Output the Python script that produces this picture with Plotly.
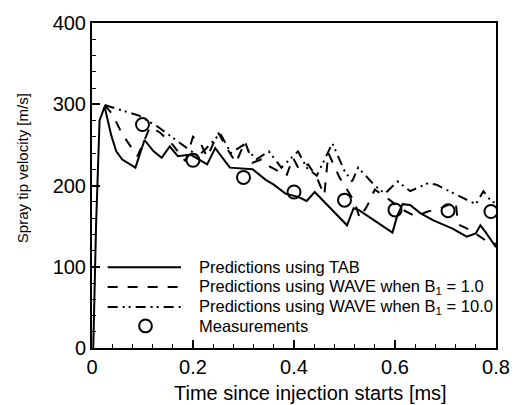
import plotly.graph_objects as go

# ---- data ----
tab_t = [0.0025, 0.008, 0.015, 0.025, 0.038, 0.048, 0.06, 0.086, 0.104, 0.122, 0.138, 0.154,
         0.17, 0.195, 0.228, 0.244, 0.273, 0.318, 0.344, 0.36, 0.383, 0.408, 0.425, 0.441,
         0.505, 0.518, 0.528, 0.595, 0.604, 0.615, 0.63, 0.65, 0.676, 0.714, 0.742, 0.76,
         0.769, 0.779, 0.8]
tab_v = [0, 150, 280, 297, 262, 242, 232, 222, 256, 242, 234, 248,
         236, 238, 226, 246, 222, 220, 207, 201, 190, 186, 181, 192,
         151, 172, 170, 142, 162, 177, 176, 166, 157, 147, 137, 141,
         151, 143, 124]

wave1_t = [0.025, 0.04, 0.06, 0.09, 0.115, 0.135, 0.16, 0.185, 0.2, 0.215, 0.228, 0.25,
           0.27, 0.285, 0.303, 0.318, 0.335, 0.35, 0.385, 0.398, 0.41, 0.428, 0.445, 0.46,
           0.468, 0.49, 0.5, 0.52, 0.53, 0.545, 0.56, 0.59, 0.61, 0.64, 0.665, 0.69, 0.72,
           0.725, 0.75, 0.78, 0.8]
wave1_v = [299, 288, 263, 236, 272, 265, 250, 230, 260, 252, 235, 265,
           243, 228, 254, 228, 232, 224, 212, 234, 220, 226, 210, 188,
           240, 210, 200, 180, 160, 175, 195, 182, 172, 162, 168, 172, 180,
           152, 145, 132, 128]

wave10_t = [0.025, 0.06, 0.093, 0.131, 0.17, 0.195, 0.21, 0.225, 0.254, 0.275, 0.3, 0.325,
            0.35, 0.375, 0.408, 0.425, 0.445, 0.476, 0.5, 0.515, 0.527, 0.56, 0.58, 0.605,
            0.63, 0.666, 0.682, 0.714, 0.74, 0.76, 0.775, 0.79, 0.8]
wave10_v = [299, 292, 286, 272, 254, 242, 236, 245, 264, 240, 250, 232,
            242, 222, 242, 222, 212, 252, 218, 205, 222, 200, 190, 205,
            193, 203, 201, 191, 183, 177, 193, 181, 178]

meas_t = [0.1, 0.2, 0.3, 0.4, 0.5, 0.6, 0.705, 0.79]
meas_v = [275, 231, 210, 192, 182, 170, 169, 168]

x_ticks = [0, 0.2, 0.4, 0.6, 0.8]
x_tick_labels = ["0", "0.2", "0.4", "0.6", "0.8"]
y_ticks = [0, 100, 200, 300, 400]
y_tick_labels = ["0", "100", "200", "300", "400"]

names = ["Predictions using TAB",
         "Predictions using WAVE when B<sub>1</sub> = 1.0",
         "Predictions using WAVE when B<sub>1</sub> = 10.0",
         "Measurements"]
x_title = "Time since injection starts [ms]"
y_title = "Spray tip velocity [m/s]"

FONT = "Liberation Sans, Arial, sans-serif"
W, H = 522, 405
L, R, T, B = 92, 17, 20, 57
PW, PH = W - L - R, H - T - B

DASH = "10px,10px"
DASHDOTDOT = "10px,5px,2px,4px,2px,5px"

def px2x(px):
    return (px - L) / PW

def py2y(py):
    return (H - B - py) / PH

fig = go.Figure()
fig.add_trace(go.Scatter(x=tab_t, y=tab_v, mode="lines", name=names[0],
                         line=dict(color="black", width=2)))
fig.add_trace(go.Scatter(x=wave1_t, y=wave1_v, mode="lines", name=names[1],
                         line=dict(color="black", width=2, dash=DASH)))
fig.add_trace(go.Scatter(x=wave10_t, y=wave10_v, mode="lines", name=names[2],
                         line=dict(color="black", width=2, dash=DASHDOTDOT)))
fig.add_trace(go.Scatter(x=meas_t, y=meas_v, mode="markers", name=names[3],
                         marker=dict(symbol="circle-open", size=13, color="black",
                                     line=dict(width=2, color="black"))))

# ---- hand-placed legend (keys + labels) ----
rows_py = [266.5, 286.5, 306.5, 325.7]
styles = [dict(color="black", width=2), dict(color="black", width=2, dash=DASH),
          dict(color="black", width=2, dash=DASHDOTDOT)]
shapes = []
annotations = []
for i, name in enumerate(names):
    yy = py2y(rows_py[i])
    if i < 3:
        shapes.append(dict(type="line", xref="paper", yref="paper",
                           x0=px2x(108), x1=px2x(183), y0=yy, y1=yy, line=styles[i]))
    else:
        r = 6.5
        shapes.append(dict(type="circle", xref="paper", yref="paper",
                           x0=px2x(146.7 - r), x1=px2x(146.7 + r),
                           y0=py2y(rows_py[i] + r), y1=py2y(rows_py[i] - r),
                           line=dict(color="black", width=2)))
    annotations.append(dict(text=name, xref="paper", yref="paper", x=px2x(199), y=yy,
                            xanchor="left", yanchor="middle", showarrow=False,
                            font=dict(size=16.5, family=FONT, color="black")))

annotations.append(dict(text=x_title, xref="paper", yref="paper", x=px2x(315), y=py2y(393),
                        xanchor="center", yanchor="middle", showarrow=False,
                        font=dict(size=20, family=FONT, color="black")))
annotations.append(dict(text=y_title, xref="paper", yref="paper", x=px2x(21), y=py2y(167),
                        xanchor="center", yanchor="middle", showarrow=False, textangle=-90,
                        font=dict(size=15, family=FONT, color="black")))

fig.update_layout(
    width=W, height=H,
    margin=dict(l=L, r=R, t=T, b=B),
    paper_bgcolor="white", plot_bgcolor="white",
    font=dict(family=FONT, color="black"),
    showlegend=False,
    shapes=shapes, annotations=annotations,
)
fig.update_xaxes(range=[0, 0.8], tickvals=x_ticks, ticktext=x_tick_labels,
                 showline=True, linecolor="black", linewidth=2, mirror=True,
                 ticks="inside", ticklen=8, tickwidth=2, tickcolor="black",
                 minor=dict(dtick=0.04, ticks="inside", ticklen=4, tickwidth=1, tickcolor="black"),
                 showgrid=False, zeroline=False,
                 tickfont=dict(size=20, family=FONT))
fig.update_yaxes(range=[0, 400], tickvals=y_ticks, ticktext=y_tick_labels,
                 showline=True, linecolor="black", linewidth=2, mirror=True,
                 ticks="inside", ticklen=8, tickwidth=2, tickcolor="black",
                 minor=dict(dtick=20, ticks="inside", ticklen=4, tickwidth=1, tickcolor="black"),
                 showgrid=False, zeroline=False,
                 tickfont=dict(size=20, family=FONT))

fig.write_html("out.html")
